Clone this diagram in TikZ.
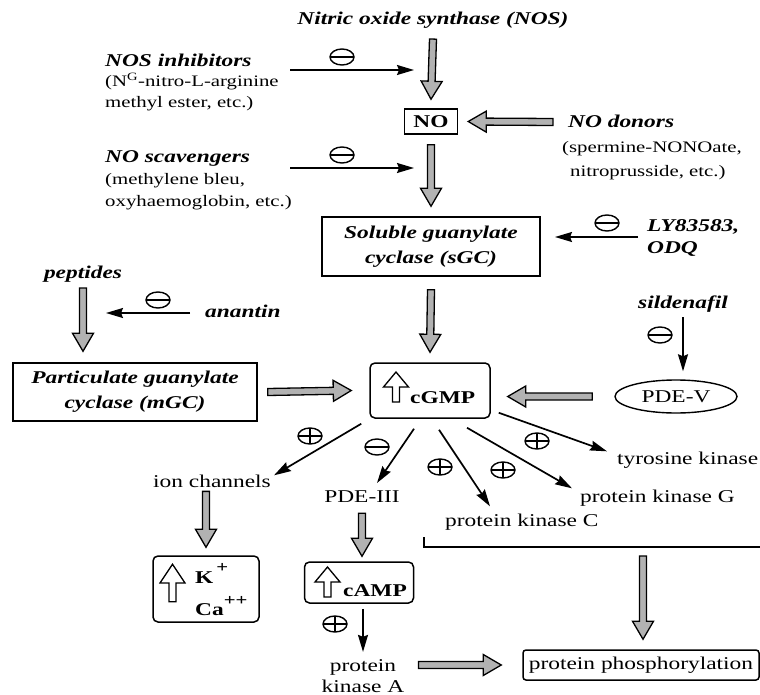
\documentclass[tikz,border=0pt]{standalone}
\usepackage{fontspec}
\setmainfont{Liberation Serif}[FakeStretch=1.3]
\usetikzlibrary{arrows.meta,calc,shapes.geometric}

\newcommand{\headfont}{\fontsize{18}{20}\selectfont\bfseries\itshape}

\tikzset{
  uparr/.pic={\draw[line width=1.3pt, fill=white] (0,-15) -- (12.5,0) -- (3.5,0) -- (3.5,15)
    -- (-3.5,15) -- (-3.5,0) -- (-12.5,0) -- cycle;}
}

\begin{document}
\begin{tikzpicture}[x=1pt,y=-1pt,
  bi/.style={font=\bfseries\itshape, inner sep=0pt},
  bf/.style={font=\bfseries, inner sep=0pt},
  txt/.style={inner sep=0pt, align=left},
  note/.style={inner sep=0pt, align=left, font=\fontsize{16}{20}\selectfont},
  box/.style={draw, line width=1.5pt, inner sep=0pt, align=center},
  rbox/.style={box, rounded corners=5pt},
  inh/.style={line width=1.7pt, -{Stealth[length=17pt,width=10pt,inset=2pt]}},
  sign/.style={ellipse, draw, line width=1.4pt, minimum width=24pt, minimum height=16pt, inner sep=0pt},
  minus/.style={sign, path picture={\draw[line width=1.4pt]
      (path picture bounding box.west) -- (path picture bounding box.east);}},
  plus/.style={sign, path picture={\draw[line width=1.4pt]
      (path picture bounding box.west) -- (path picture bounding box.east)
      (path picture bounding box.north) -- (path picture bounding box.south);}},
  fat/.style={draw, fill=black!30, line width=1.3pt,
    to path={let \p1=(\tikztostart), \p2=(\tikztotarget),
      \n1={veclen(\x2-\x1,\y2-\y1)}, \n2={(\x2-\x1)/\n1}, \n3={(\y2-\y1)/\n1} in
      ({\x1-3.5*\n3},{\y1+3.5*\n2}) -- ({\x2-18*\n2-3.5*\n3},{\y2-18*\n3+3.5*\n2})
      -- ({\x2-18*\n2-10.5*\n3},{\y2-18*\n3+10.5*\n2}) -- (\x2,\y2)
      -- ({\x2-18*\n2+10.5*\n3},{\y2-18*\n3-10.5*\n2}) -- ({\x2-18*\n2+3.5*\n3},{\y2-18*\n3-3.5*\n2})
      -- ({\x1+3.5*\n3},{\y1-3.5*\n2}) -- cycle}}]
\fontsize{18}{21}\selectfont
\useasboundingbox (0,0) rectangle (760,695);

% main column
\node[bi, anchor=base] (nos) at (433,25) {Nitric oxide synthase (NOS)};
\node[box, font=\bfseries, minimum width=53pt, minimum height=25pt] (no) at (431,121.5) {NO};
\node[box, bi, minimum width=218pt, minimum height=59pt] (sgc) at (431,246.5) {Soluble guanylate\\[4pt]cyclase (sGC)};
\node[rbox, minimum width=120pt, minimum height=55pt] (cgmp) at (430,390.5) {};
\pic at (396,387) {uparr};
\node[bf, anchor=base west] (cgmpt) at (410,403) {cGMP};

% drugs and donors
\node[note, anchor=base west] (nosinh) at (105,108) {{\headfont NOS inhibitors}\\(N\textsuperscript{G}-nitro-L-arginine\\[1pt]methyl ester, etc.)};
\node[note, anchor=base west] (noscav) at (105,207) {{\headfont NO scavengers}\\[2pt](methylene bleu,\\[2pt]oxyhaemoglobin, etc.)};
\node[note, anchor=base west] (nodon) at (562,177) {\hspace*{6pt}{\headfont NO donors}\\[5pt](spermine-NONOate,\\[4pt]\hspace*{8pt}nitroprusside, etc.)};
\node[bi, anchor=base west, align=left] (ly) at (647,253) {LY83583,\\ODQ};
\node[bi, anchor=base] (pept) at (83,278) {peptides};
\node[bi, anchor=base west] (anan) at (205,317) {anantin};
\node[bi, anchor=base] (sild) at (683,308) {sildenafil};
\node[box, bi, minimum width=244pt, minimum height=58pt] (mgc) at (135,392) {Particulate guanylate\\[4pt]cyclase (mGC)};
\node[ellipse, draw, line width=1.4pt, minimum width=122pt, minimum height=33pt, inner sep=0pt] (pdev) at (676,396.5) {PDE-V};

% targets of cGMP
\node[txt, anchor=base] (ionch) at (212,487) {ion channels};
\node[txt, anchor=base] (pde3) at (362,502) {PDE-III};
\node[txt, anchor=base west] (pkc) at (445,526) {protein kinase C};
\node[txt, anchor=base west] (pkg) at (580,502) {protein kinase G};
\node[txt, anchor=base west] (tyr) at (617,464) {tyrosine kinase};

\node[rbox, minimum width=106pt, minimum height=66pt] (kbox) at (206,589) {};
\pic[yscale=1.25] at (172.5,583) {uparr};
\node[bf, anchor=base west] (kion) at (195,583) {K\hspace{3pt}\raisebox{11pt}{\fontsize{16}{16}\selectfont +}};
\node[bf, anchor=base west] (caion) at (195,615) {Ca\raisebox{10pt}{\fontsize{16}{16}\selectfont ++}};

\node[rbox, minimum width=109pt, minimum height=41pt] (camp) at (359,582.5) {};
\pic at (327.5,582) {uparr};
\node[bf, anchor=base west] (campt) at (343,596) {cAMP};
\node[txt, anchor=base, align=center] (pka) at (363,692) {protein\\kinase A};
\node[rbox, rounded corners=3pt, minimum width=236pt, minimum height=30pt] (phos) at (641,665) {protein phosphorylation};

% free ends
\coordinate (don) at (553,122);
\coordinate (inhA) at (290,70);   \coordinate (inhB) at (414,70);
\coordinate (scvA) at (290,168);  \coordinate (scvB) at (414,168);
\coordinate (lyA) at (638,237);   \coordinate (lyB) at (555,237);
\coordinate (anA) at (190,313);   \coordinate (anB) at (106,313);
\coordinate (brA) at (424,537);   \coordinate (brB) at (424,547);
\coordinate (brC) at (760,547);   \coordinate (brk) at (643,556);

% fat arrows
\path[fat] ([yshift=-10pt]nos.south) to ([yshift=9pt]no.north);
\path[fat] (don) to ([xshift=10pt]no.east);
\path[fat] ([yshift=-10pt]no.south) to ([yshift=10pt]sgc.north);
\path[fat] ([yshift=-13pt]sgc.south) to ([yshift=10pt]cgmp.north);
\path[fat] ([yshift=-6pt]pept.south) to ([yshift=11pt]pept.south |- mgc.north);
\path[fat] ([xshift=10pt]mgc.east) to ([xshift=-18pt]cgmp.west);
\path[fat] ([xshift=-22pt]pdev.west) to ([xshift=17pt]pdev.west -| cgmp.east);
\path[fat] ([yshift=-4pt]kbox.north |- ionch.south) to ([yshift=8pt]kbox.north);
\path[fat] ([yshift=-11pt]pde3.south) to ([yshift=5pt]pde3.south |- camp.north);
\path[fat] (brk) to ([yshift=10pt]brk |- phos.north);
\path[fat] ([xshift=14pt]pka.east |- phos.west) to ([xshift=-21pt]phos.west);

% bracket
\draw[line width=1.5pt] (brA) -- (brB) -- (brC);

% inhibition and activation
\draw[inh] (inhA) -- (inhB);
\draw[inh] (scvA) -- (scvB);
\draw[inh] (lyA) -- (lyB);
\draw[inh] (anA) -- (anB);
\draw[inh] ([yshift=-5pt]sild.south) -- ([yshift=8pt]sild.south |- pdev.north);
\draw[inh] ([yshift=-5pt]camp.south -| pka.north) -- ([yshift=7pt]pka.north);
\path[inh]
  ($(cgmp.south west)+(-8,5)$) edge ($(ionch.north east)+(3,1)$)
  ($(cgmp.south)+(-16,10)$) edge ($(pde3.north)+(15,-7)$)
  ($(cgmp.south)+(9,11)$) edge ($(pkc.north west)+(45,-7)$)
  ($(cgmp.south)+(37,9)$) edge ($(pkg.north west)+(-8,-1)$)
  ($(cgmp.south east)+(8,-6)$) edge ($(tyr.north west)+(-10,0)$);

\node[minus] (s1) at (342,57) {};
\node[minus] (s2) at (342,155) {};
\node[minus] (s3) at (607,223) {};
\node[minus] (s4) at (158,300) {};
\node[minus] (s5) at (660,335) {};
\node[plus] (s6) at (310,436) {};
\node[minus] (s7) at (377,447) {};
\node[plus] (s8) at (440,467) {};
\node[plus] (s9) at (503,470) {};
\node[plus] (s10) at (537,441) {};
\node[plus] (s11) at (335,624) {};
\end{tikzpicture}
\end{document}
